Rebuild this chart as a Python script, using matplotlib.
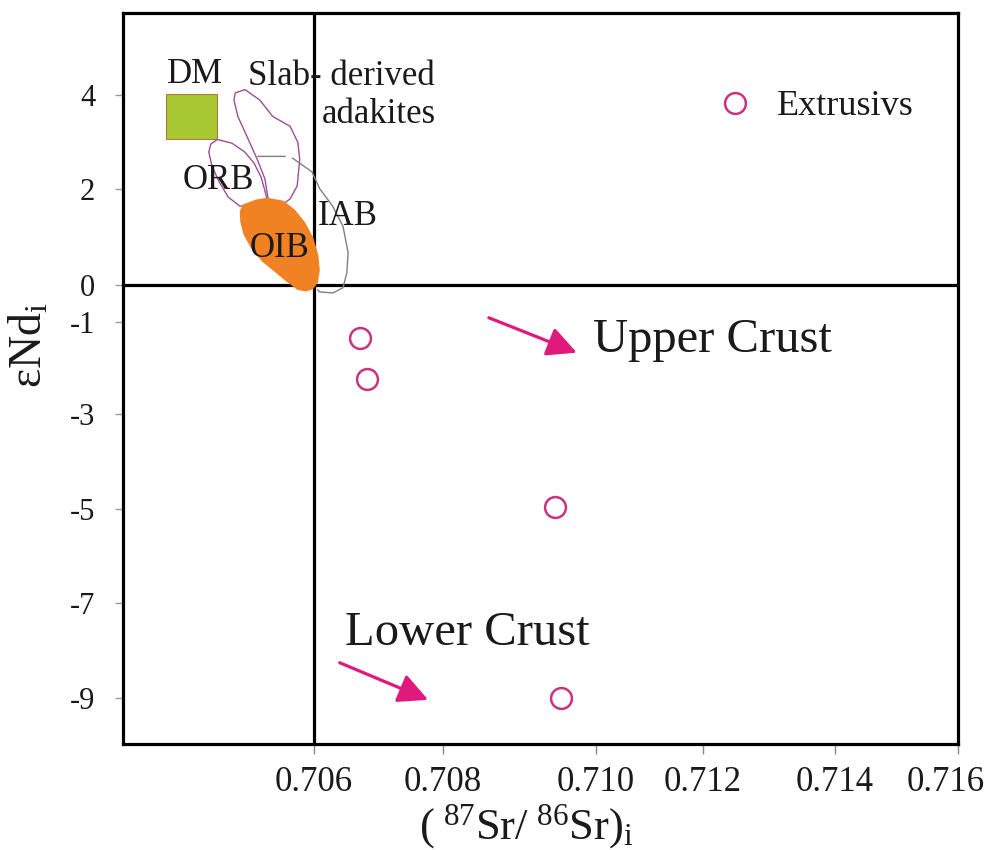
import numpy as np
import matplotlib
matplotlib.use("Agg")
import matplotlib.pyplot as plt
import matplotlib.transforms as mtransforms

plt.rcParams['font.family'] = ['Liberation Serif', 'DejaVu Serif']
plt.rcParams['mathtext.fontset'] = 'custom'
plt.rcParams['mathtext.rm'] = 'Liberation Serif'
plt.rcParams['mathtext.it'] = 'Liberation Serif:italic'

# ---------------- data ----------------
x_tick_values = [0.706, 0.708, 0.710, 0.712, 0.714, 0.716]
x_tick_labels = ['0.706', '0.708', '0.710', '0.712', '0.714', '0.716']
y_tick_values = [4, 2, 0, -1, -3, -5, -7, -9]
y_tick_labels = ['4', '2', '0', '-1', '-3', '-5', '-7', '-9']

# Extrusive samples: (87Sr/86Sr)i and eNd(i)
extrusive_sr = [0.70671, 0.70682, 0.70946, 0.70954]
extrusive_nd = [-1.35, -2.24, -4.96, -9.00]

# Reference fields
dm_sr = [0.7037, 0.7045, 0.7045, 0.7037]
dm_nd = [3.05, 3.05, 4.02, 4.02]

slab_sr = [0.70478, 0.70493, 0.70516, 0.70536, 0.70563, 0.70575, 0.70578, 0.70574,
           0.70563, 0.70552, 0.70529, 0.70524, 0.70512, 0.70496, 0.70482, 0.70476]
slab_nd = [4.04, 4.11, 3.89, 3.54, 3.33, 2.99, 2.63, 2.06,
           1.79, 1.68, 1.79, 2.21, 2.63, 3.12, 3.54, 3.89]

orb_sr = [0.70450, 0.70473, 0.70493, 0.70507, 0.70518, 0.70524, 0.70529, 0.70509,
          0.70485, 0.70467, 0.70453, 0.70442, 0.70437, 0.70440]
orb_nd = [3.05, 2.97, 2.78, 2.55, 2.25, 1.96, 1.68, 1.64,
          1.64, 1.83, 2.15, 2.48, 2.78, 2.95]

oib_sr = [0.70490, 0.70510, 0.70527, 0.70552, 0.70570, 0.70585, 0.70598, 0.70606,
          0.70608, 0.70605, 0.70598, 0.70588, 0.70575, 0.70558, 0.70540, 0.70520,
          0.70503, 0.70492, 0.70487, 0.70486]
oib_nd = [1.66, 1.76, 1.80, 1.74, 1.55, 1.30, 0.98, 0.60,
          0.30, 0.05, -0.10, -0.16, -0.12, 0.08, 0.28, 0.50,
          0.78, 1.05, 1.30, 1.52]

iab_sr = [0.70513, 0.70555, np.nan, 0.70567, 0.70597, 0.70609, 0.70629, 0.70645,
          0.70653, 0.70651, 0.70645, 0.70629, 0.70609, 0.70606]
iab_nd = [2.69, 2.69, np.nan, 2.65, 2.36, 2.00, 1.64, 1.22,
          0.67, 0.25, -0.08, -0.22, -0.19, -0.14]

# Trend arrows (tail, head)
upper_arrow = [(0.70860, -0.89), (0.70975, -1.67)]
lower_arrow = [(0.70640, -8.26), (0.70777, -9.04)]

# Hand-drawn (non-uniform) axes of the source figure: relative tick spacing
x_axis_spacing = [0, 129, 282, 389, 521, 644]
y_axis_spacing = [0, 95, 189, 284, 376, 413, 509, 603]   # for values -9..4 ascending
y_axis_values = [-9, -7, -5, -3, -1, 0, 2, 4]


def piecewise(v, xs, ys):
    v = np.asarray(v, dtype=float)
    xs = np.asarray(xs, dtype=float)
    ys = np.asarray(ys, dtype=float)
    out = np.interp(v, xs, ys)
    lo_slope = (ys[1] - ys[0]) / (xs[1] - xs[0])
    hi_slope = (ys[-1] - ys[-2]) / (xs[-1] - xs[-2])
    out = np.where(v < xs[0], ys[0] + (v - xs[0]) * lo_slope, out)
    out = np.where(v > xs[-1], ys[-1] + (v - xs[-1]) * hi_slope, out)
    return out


def fx(v):
    return piecewise(v, x_tick_values, x_axis_spacing)


def fx_inv(p):
    return piecewise(p, x_axis_spacing, x_tick_values)


def fy(v):
    return piecewise(v, y_axis_values, y_axis_spacing)


def fy_inv(p):
    return piecewise(p, y_axis_spacing, y_axis_values)


# ---------------- figure ----------------
W, H = 986, 850
fig = plt.figure(figsize=(W / 100, H / 100), dpi=100)
ax = fig.add_axes([123 / W, (H - 744) / H, (958 - 123) / W, (744 - 13) / H])
ax.set_xscale('function', functions=(fx, fx_inv))
ax.set_yscale('function', functions=(fy, fy_inv))
ax.set_xlim(0.70304, 0.716)
ax.set_ylim(-9.97, 5.74)

line_kw = dict(color='black', lw=2.3, zorder=2)
ax.axhline(0, **line_kw)
ax.axvline(0.706, **line_kw)

purple = '#9c4f98'
ax.fill(dm_sr, dm_nd, facecolor='#a8c934', edgecolor='#b07a3a', lw=0.8, zorder=3)
ax.fill(slab_sr, slab_nd, facecolor='none', edgecolor=purple, lw=1.0, zorder=3)
ax.fill(orb_sr, orb_nd, facecolor='none', edgecolor=purple, lw=1.0, zorder=3)
ax.plot(iab_sr, iab_nd, color='#808080', lw=1.0, zorder=3)
ax.fill(oib_sr, oib_nd, facecolor='#f08224', edgecolor='#f08224', lw=1.0, zorder=4)

txt_kw = dict(fontsize=25, color='#1a1a1a', va='baseline', ha='left', zorder=6)
ax.text(0.70372, 4.25, 'DM', **txt_kw)
ax.text(0.70498, 4.21, 'Slab- derived', **txt_kw)
ax.text(0.70612, 3.41, 'adakites', **txt_kw)
ax.text(0.70397, 2.00, 'ORB', **txt_kw)
ax.text(0.70501, 0.59, 'OIB', **txt_kw)
ax.text(0.70606, 1.24, 'IAB', **txt_kw)

big_kw = dict(fontsize=35, color='#1a1a1a', va='baseline', ha='left', zorder=6)
ax.text(0.70996, -1.65, 'Upper Crust', **big_kw)
ax.text(0.70648, -7.88, 'Lower Crust', **big_kw)

arrow_color = '#e0197c'
for (tail, head) in (upper_arrow, lower_arrow):
    ax.annotate('', xy=head, xytext=tail,
                arrowprops=dict(arrowstyle='-|>,head_length=0.9,head_width=0.45',
                                color=arrow_color, lw=2.3, mutation_scale=20,
                                shrinkA=0, shrinkB=0), zorder=5)

ax.plot(extrusive_sr, extrusive_nd, linestyle='none', marker='o', ms=15,
        mfc='none', mec='#c9337f', mew=1.8, label='Extrusivs', zorder=6)

leg = ax.legend(loc='center left', bbox_to_anchor=(0.711, 0.872), frameon=False,
                fontsize=26, handlelength=1.0, handletextpad=0.66,
                borderpad=0, borderaxespad=0)
for t in leg.get_texts():
    t.set_color('#1a1a1a')

for s in ax.spines.values():
    s.set_linewidth(2.3)
    s.set_color('black')

ax.set_xticks(x_tick_values)
ax.set_xticklabels(x_tick_labels)
ax.set_yticks(y_tick_values)
ax.set_yticklabels(y_tick_labels)
ax.minorticks_off()
ax.tick_params(axis='x', direction='out', length=7, width=1, color='#888888',
               pad=9, labelsize=25, labelcolor='#1a1a1a')
ax.tick_params(axis='y', direction='out', length=6, width=1, color='#999999',
               pad=14, labelsize=22, labelcolor='#1a1a1a')

# the last x label sits slightly left of its tick in the source
last_lbl = ax.get_xticklabels()[-1]
last_lbl.set_transform(last_lbl.get_transform() +
                       mtransforms.ScaledTranslation(-12 / 100, 0, fig.dpi_scale_trans))

ax.set_xlabel(r'$(\;^{87}\mathrm{Sr}/\;^{86}\mathrm{Sr})_{\mathrm{i}}$',
              fontsize=32, color='#1a1a1a', labelpad=2, x=0.483)
ax.set_ylabel(r'$\mathrm{εNd}_{\mathrm{i}}$', fontsize=33, color='#1a1a1a', va='center')
ax.yaxis.set_label_coords(-0.111, 0.546)

fig.savefig('out.png', dpi=100)
